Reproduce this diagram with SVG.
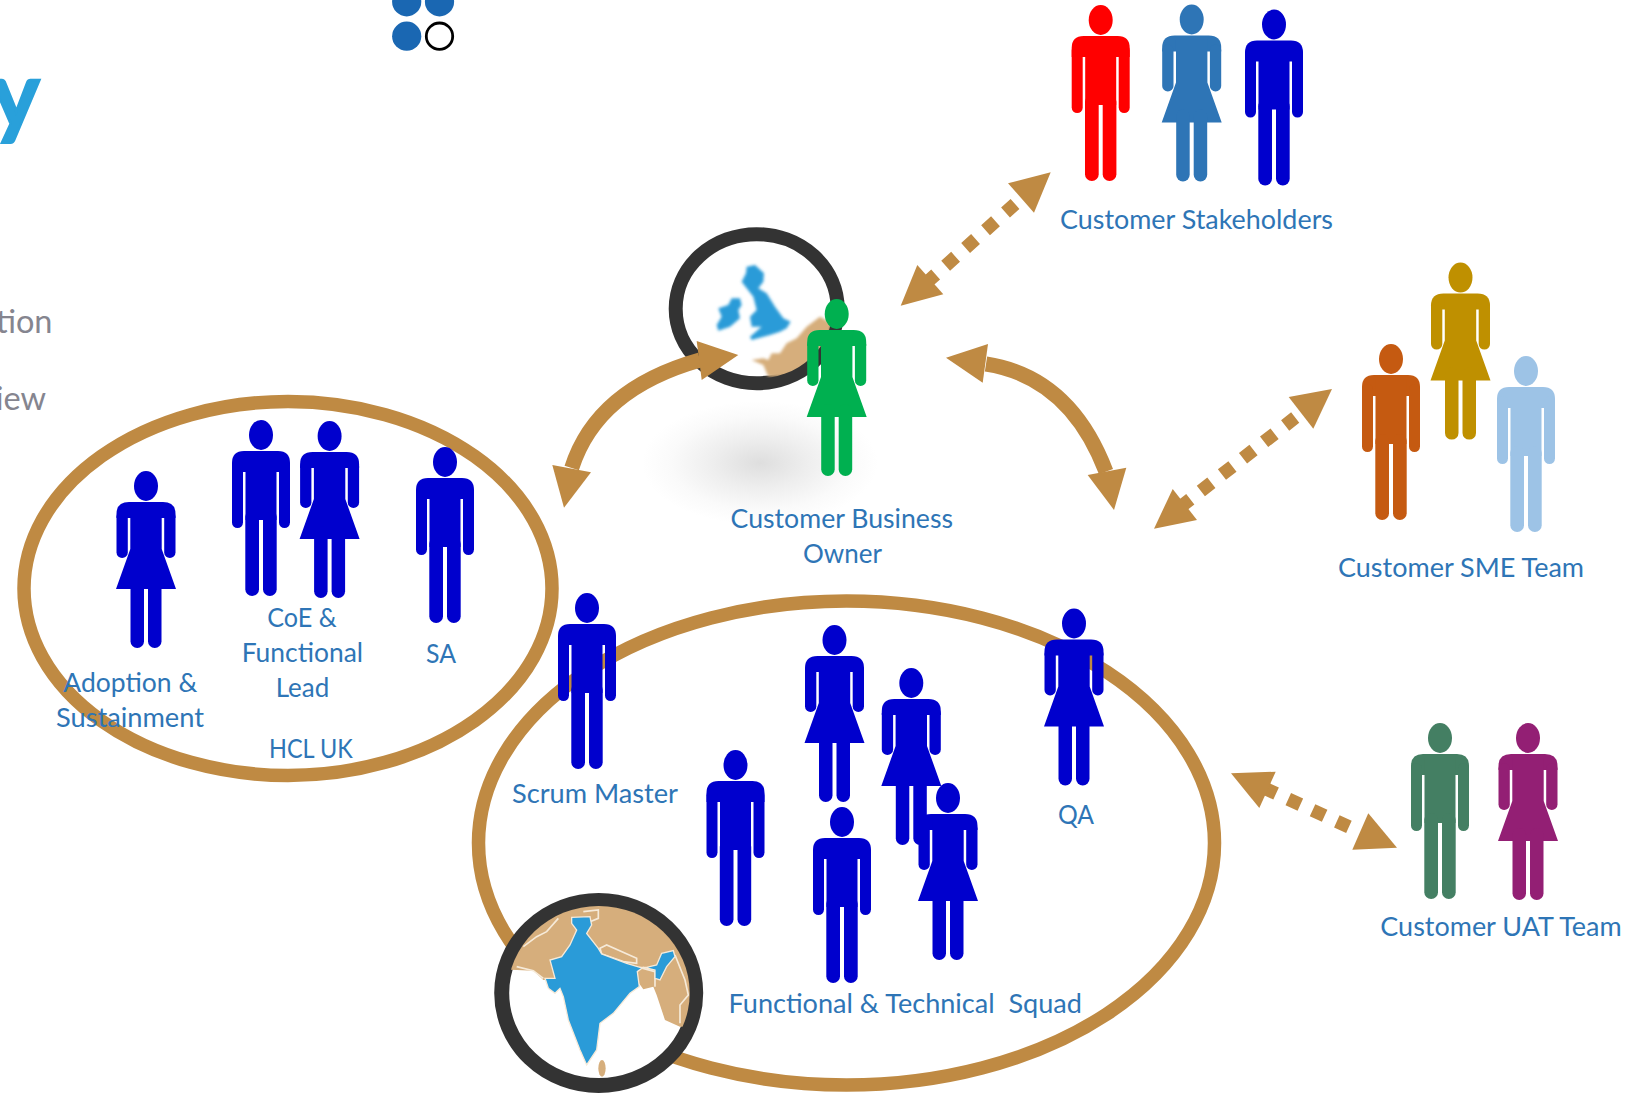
<svg xmlns="http://www.w3.org/2000/svg" xmlns:xlink="http://www.w3.org/1999/xlink" width="1646" height="1093" viewBox="0 0 1646 1093">
<style>
.lbl{font-family:"Lato","Open Sans",sans-serif;font-size:26.5px;fill:#2e75b6}
.gr{font-family:"Lato","Open Sans",sans-serif;font-size:32.5px;fill:#85858f}
.ring{fill:#fff;stroke:#333;}
.team{fill:none;stroke:#bf8a43;stroke-width:13.5}
.ah{fill:#bf8a43}
.dash{fill:none;stroke:#bf8a43;stroke-width:13.3;stroke-dasharray:13.3 13.4}
.curve{fill:none;stroke:#bf8a43;stroke-width:15}
</style>
<defs>
<g id="man">
<ellipse cx="0" cy="15" rx="12" ry="15"/>
<path d="M-29,43Q-29,31-17,31H17Q29,31 29,43V52H-29Z"/>
<rect x="-29" y="40" width="11" height="68" rx="5.5"/>
<rect x="18" y="40" width="11" height="68" rx="5.5"/>
<rect x="-15.5" y="35" width="31" height="65"/>
<rect x="-15.7" y="90" width="13.7" height="86" rx="6.8"/>
<rect x="2" y="90" width="13.7" height="86" rx="6.8"/>
</g>
<g id="woman">
<ellipse cx="0" cy="15" rx="12" ry="15"/>
<path d="M-29.5,43Q-29.5,31-17,31H17Q29.5,31 29.5,43V47H-29.5Z"/>
<rect x="-29.5" y="40" width="11.3" height="47" rx="5.6"/>
<rect x="18.2" y="40" width="11.3" height="47" rx="5.6"/>
<path d="M-15.7,35H15.7V78L30,118H-30L-15.7,78Z"/>
<rect x="-15.5" y="105" width="13.5" height="72" rx="6.7"/>
<rect x="2" y="105" width="13.5" height="72" rx="6.7"/>
</g>
<radialGradient id="shade"><stop offset="0" stop-color="#dedede"/><stop offset=".4" stop-color="#eeeeee"/><stop offset=".75" stop-color="#fafafa"/><stop offset="1" stop-color="#fff"/></radialGradient>
<filter id="soft" x="-10%" y="-10%" width="120%" height="120%"><feGaussianBlur stdDeviation="4"/></filter>
<filter id="soft2" x="-5%" y="-5%" width="110%" height="110%"><feGaussianBlur stdDeviation="1.6"/></filter>
<clipPath id="ukclip"><ellipse cx="756.7" cy="308.7" rx="76" ry="70"/></clipPath>
<clipPath id="inclip"><ellipse cx="598.7" cy="993" rx="91" ry="87"/></clipPath>
</defs>
<rect width="1646" height="1093" fill="#fff"/>

<g id="logo">
<circle cx="406.7" cy="1.8" r="14.6" fill="#1a67b2"/>
<circle cx="439.5" cy="1.8" r="14.6" fill="#1a67b2"/>
<circle cx="406.7" cy="36.2" r="14.6" fill="#1a67b2"/>
<circle cx="439.5" cy="36.2" r="13.2" fill="#fff" stroke="#000" stroke-width="2.8"/>
</g>
<g id="title-fragments">
<text x="39.5" y="127" text-anchor="end" font-family="Lato,sans-serif" font-weight="700" font-size="91" fill="#29a0da" stroke="#29a0da" stroke-width="2.5">y</text>
<text class="gr" x="52.5" y="333" text-anchor="end">tion</text>
<text class="gr" x="46" y="410" text-anchor="end">iew</text>
</g>

<ellipse cx="760" cy="463" rx="118" ry="62" fill="url(#shade)"/>

<g id="team-hcl-uk"><ellipse class="team" cx="288" cy="588.5" rx="264" ry="187"/></g>
<g id="team-squad"><ellipse class="team" cx="846.5" cy="843" rx="368" ry="242"/></g>

<g id="map-uk">
<ellipse class="ring" cx="756.7" cy="308.7" rx="81" ry="74.5" stroke-width="14"/>
<g clip-path="url(#ukclip)"><g transform="translate(640 210) scale(.3333)" filter="url(#soft)">
<path fill="#d6ae7b" d="M335,450L370,445L385,450L395,430L420,430L440,400L470,385L500,350L540,320L575,340L560,420L530,470L470,500L385,500L370,465Z"/>
<path fill="#2a9bd8" d="M320,170L345,165L372,190L370,215L355,235L380,250L405,290L430,325L452,335L440,355L420,365L390,375L335,390L330,380L365,350L335,350L330,320L350,300L340,260L320,235L305,215L318,190Z"/>
<path fill="#2a9bd8" d="M235,295L265,285L275,265L300,265L305,285L295,300L300,325L270,350L235,362L230,345L245,320Z"/>
</g></g>
</g>

<g id="map-india">
<ellipse class="ring" cx="598.7" cy="993" rx="97" ry="92.5" stroke-width="15"/>
<g clip-path="url(#inclip)"><g transform="translate(480 880) scale(.3333)" filter="url(#soft2)">
<path fill="#d6ae7b" d="M60,268L60,60L680,60L680,440L600,440L555,420L530,345L520,320L490,328L470,300L300,300L190,300L160,272Z"/>
<ellipse cx="366" cy="565" rx="11" ry="25" fill="#d6ae7b"/>
<g fill="none" stroke="#f6ead9" stroke-width="5">
<path d="M110,260L160,272L190,295"/>
<path d="M130,200L170,170L200,155L235,115"/>
<path d="M310,95L355,90L355,115L330,125"/>
<path d="M360,205L380,195L470,235L470,250L430,245L365,222Z"/>
<path d="M585,225L615,300L625,345L600,375L600,430"/>
<path d="M478,262L525,275L525,320"/>
</g>
<path fill="#2a9bd8" stroke="#f6ead9" stroke-width="4" d="M275,112L330,110L335,135L320,160L355,205L365,222L440,250L480,262L500,262L530,255L545,220L580,212L585,230L560,260L540,300L525,295L525,270L490,262L472,275L478,320L450,340L400,400L360,430L350,510L320,555L300,510L265,420L250,350L240,325L225,340L205,325L195,295L225,295L210,240L245,230L270,195L290,150L275,130Z"/>
</g></g>
</g>

<g id="person-business-owner"><use href="#woman" x="836.7" y="299" fill="#00b050"/><text class="lbl" x="730.6" y="528" textLength="222.4" lengthAdjust="spacingAndGlyphs">Customer Business</text><text class="lbl" x="803" y="562.5" textLength="79" lengthAdjust="spacingAndGlyphs">Owner</text></g>

<g id="connectors">
<path class="curve" d="M700,360Q597,389 571.7,468"/>
<path class="ah" d="M738.3,355L696.7,341L701.7,380Z"/>
<path class="ah" d="M564,507.7L552.3,465L591,472.3Z"/>
<path class="curve" d="M986,364Q1070,377 1106,471.7"/>
<path class="ah" d="M946,357.7L988,344L982.7,382.7Z"/>
<path class="ah" d="M1114,510L1087.7,475L1126.3,467.7Z"/>
<path class="dash" d="M925.7,283.4L1015,204"/>
<path class="ah" d="M1050.7,172.3L1008,183.3L1034,212.7Z"/>
<path class="ah" d="M900.7,305.7L917.3,265L943.3,294.3Z"/>
<path class="dash" d="M1179.8,507.4L1295.2,417.6"/>
<path class="ah" d="M1332,389L1288.7,397L1313.3,428.7Z"/>
<path class="ah" d="M1154,528.7L1172.7,489L1197,520Z"/>
<path class="dash" d="M1264,788L1367.7,835.5"/>
<path class="ah" d="M1231,773.3L1275.7,771.7L1259.3,808Z"/>
<path class="ah" d="M1397,847.7L1368.3,813.3L1352.3,849.7Z"/>
</g>

<g id="group-stakeholders">
<use href="#man" x="1100.7" y="5" fill="#ff0000"/>
<use href="#woman" x="1191.7" y="4.5" fill="#2e75b6"/>
<use href="#man" x="1274" y="9.5" fill="#0000cd"/>
<text class="lbl" x="1060" y="229" textLength="273" lengthAdjust="spacingAndGlyphs">Customer Stakeholders</text>
</g>
<g id="group-sme">
<use href="#man" x="1391" y="344" fill="#c55a11"/>
<use href="#woman" x="1460.5" y="262.6" fill="#bf9000"/>
<use href="#man" x="1526" y="356" fill="#9dc3e6"/>
<text class="lbl" x="1338" y="577" textLength="246" lengthAdjust="spacingAndGlyphs">Customer SME Team</text>
</g>
<g id="group-uat">
<use href="#man" x="1440" y="723" fill="#447f63"/>
<use href="#woman" x="1528" y="723" fill="#931f74"/>
<text class="lbl" x="1380.3" y="936" textLength="241.4" lengthAdjust="spacingAndGlyphs">Customer UAT Team</text>
</g>

<g id="group-hcl-uk">
<use href="#woman" x="146" y="471" fill="#0000cd"/>
<use href="#man" x="261" y="420" fill="#0000cd"/>
<use href="#woman" x="329.6" y="421" fill="#0000cd"/>
<use href="#man" x="445" y="447" fill="#0000cd"/>
<text class="lbl" x="63.3" y="692" textLength="134" lengthAdjust="spacingAndGlyphs">Adoption &amp;</text>
<text class="lbl" x="56" y="727" textLength="148" lengthAdjust="spacingAndGlyphs">Sustainment</text>
<text class="lbl" x="267.3" y="626.5" textLength="69.4" lengthAdjust="spacingAndGlyphs">CoE &amp;</text>
<text class="lbl" x="241.7" y="662" textLength="121.3" lengthAdjust="spacingAndGlyphs">Functional</text>
<text class="lbl" x="275.7" y="696.5" textLength="53.6" lengthAdjust="spacingAndGlyphs">Lead</text>
<text class="lbl" x="426" y="663" textLength="30" lengthAdjust="spacingAndGlyphs">SA</text>
<text class="lbl" x="269" y="758" textLength="83.7" lengthAdjust="spacingAndGlyphs">HCL UK</text>
</g>
<g id="group-squad">
<use href="#man" x="587" y="593" fill="#0000cd"/>
<use href="#woman" x="834.5" y="625" fill="#0000cd"/>
<use href="#woman" x="911.3" y="668" fill="#0000cd"/>
<use href="#man" x="735.5" y="750" fill="#0000cd"/>
<use href="#man" x="842" y="807" fill="#0000cd"/>
<use href="#woman" x="948" y="783" fill="#0000cd"/>
<use href="#woman" x="1074" y="608.5" fill="#0000cd"/>
<text class="lbl" x="512" y="803" textLength="166" lengthAdjust="spacingAndGlyphs">Scrum Master</text>
<text class="lbl" x="1058" y="824" textLength="36" lengthAdjust="spacingAndGlyphs">QA</text>
<text class="lbl" x="728.5" y="1013" textLength="353.5" lengthAdjust="spacingAndGlyphs" xml:space="preserve">Functional &amp; Technical  Squad</text>
</g>
</svg>
